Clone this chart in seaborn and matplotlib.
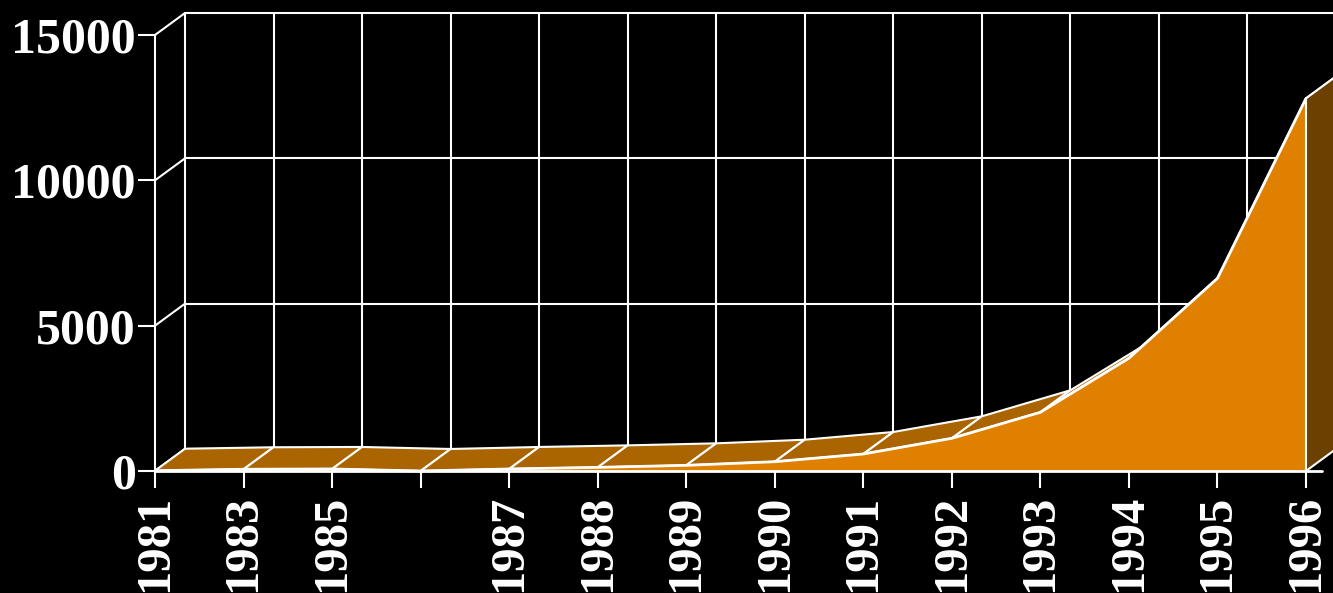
import numpy as np
import matplotlib
matplotlib.use("Agg")
import matplotlib.pyplot as plt
import seaborn as sns
import pandas as pd

# ---- data ----
year_labels = ["1981", "1983", "1985", "", "1987", "1988", "1989", "1990",
               "1991", "1992", "1993", "1994", "1995", "1996"]
values = [10, 60, 70, 0, 70, 125, 195, 320, 585, 1125, 2020, 3880, 6630, 12820]
y_ticks = [0, 5000, 10000, 15000]

# ---- style ----
FRONT = "#E08000"
TOP = "#AA6400"
SIDE = "#6B4000"
LINE = "white"

sns.set_theme(style="dark", rc={"axes.facecolor": "black", "figure.facecolor": "black",
                                "savefig.facecolor": "black"})
plt.rcParams["font.family"] = ["Liberation Serif", "DejaVu Serif"]

W, H = 1333, 593
fig = plt.figure(figsize=(W / 100, H / 100), dpi=100)
left_px, right_px, top_px, bot_px = 155, 1333, 35, 471
ax = fig.add_axes([left_px / W, (H - bot_px) / H, (right_px - left_px) / W, (bot_px - top_px) / H])

n = len(values)
xs = np.arange(n)
step_px = (1306 - 155) / (n - 1)
ax.set_xlim(0, (right_px - left_px) / step_px)
ax.set_ylim(0, 15000)

# depth offset (3D look)
DX = 30 / step_px
DY = 22 * 15000 / (bot_px - top_px)
v = np.array(values, dtype=float)
xmax = ax.get_xlim()[1]

lw = 1.5
# back wall grid
for yt in y_ticks:
    ax.plot([DX, xmax + 1], [yt + DY, yt + DY], color=LINE, lw=lw, zorder=1, clip_on=False)
    ax.plot([0, DX], [yt, yt + DY], color=LINE, lw=lw, zorder=1, clip_on=False)
for x in xs:
    ax.plot([x + DX, x + DX], [DY, 15000 + DY], color=LINE, lw=lw, zorder=1, clip_on=False)

# top ribbon
for i in range(n - 1):
    qx = [xs[i], xs[i + 1], xs[i + 1] + DX, xs[i] + DX]
    qy = [v[i], v[i + 1], v[i + 1] + DY, v[i] + DY]
    ax.fill(qx, qy, facecolor=TOP, edgecolor=LINE, lw=lw, zorder=2, clip_on=False)

# front face
ax.fill_between(xs, 0, v, facecolor=FRONT, edgecolor="none", zorder=3, clip_on=False)
df = pd.DataFrame({"x": xs, "y": v})
sns.lineplot(data=df, x="x", y="y", color=LINE, lw=2, ax=ax, zorder=4, clip_on=False)

# right side face
last = n - 1
ax.fill([last, last, last + DX, last + DX], [0, v[last], v[last] + DY, DY],
        facecolor=SIDE, edgecolor=LINE, lw=lw, zorder=5, clip_on=False)

# baseline
ax.plot([0, last + 0.18], [0, 0], color=LINE, lw=2, zorder=6, clip_on=False)

# axes styling
for s in ["top", "right", "bottom"]:
    ax.spines[s].set_visible(False)
ax.spines["left"].set_visible(True)
ax.spines["left"].set_color(LINE)
ax.spines["left"].set_linewidth(lw)
ax.spines["left"].set_zorder(6)
ax.grid(False)
ax.set_xlabel("")
ax.set_ylabel("")

ax.set_xticks(xs)
ax.set_xticklabels(year_labels, rotation=90, fontsize=35, fontweight="bold", color=LINE)
ax.set_yticks(y_ticks)
ax.set_yticklabels([str(t) for t in y_ticks], fontsize=36, fontweight="bold", color=LINE)
ax.tick_params(axis="x", bottom=True, length=12, width=lw, color=LINE, pad=5, direction="out")
ax.tick_params(axis="y", left=True, length=12, width=lw, color=LINE, pad=2, direction="out")

fig.savefig("out.png", dpi=100, facecolor="black")
